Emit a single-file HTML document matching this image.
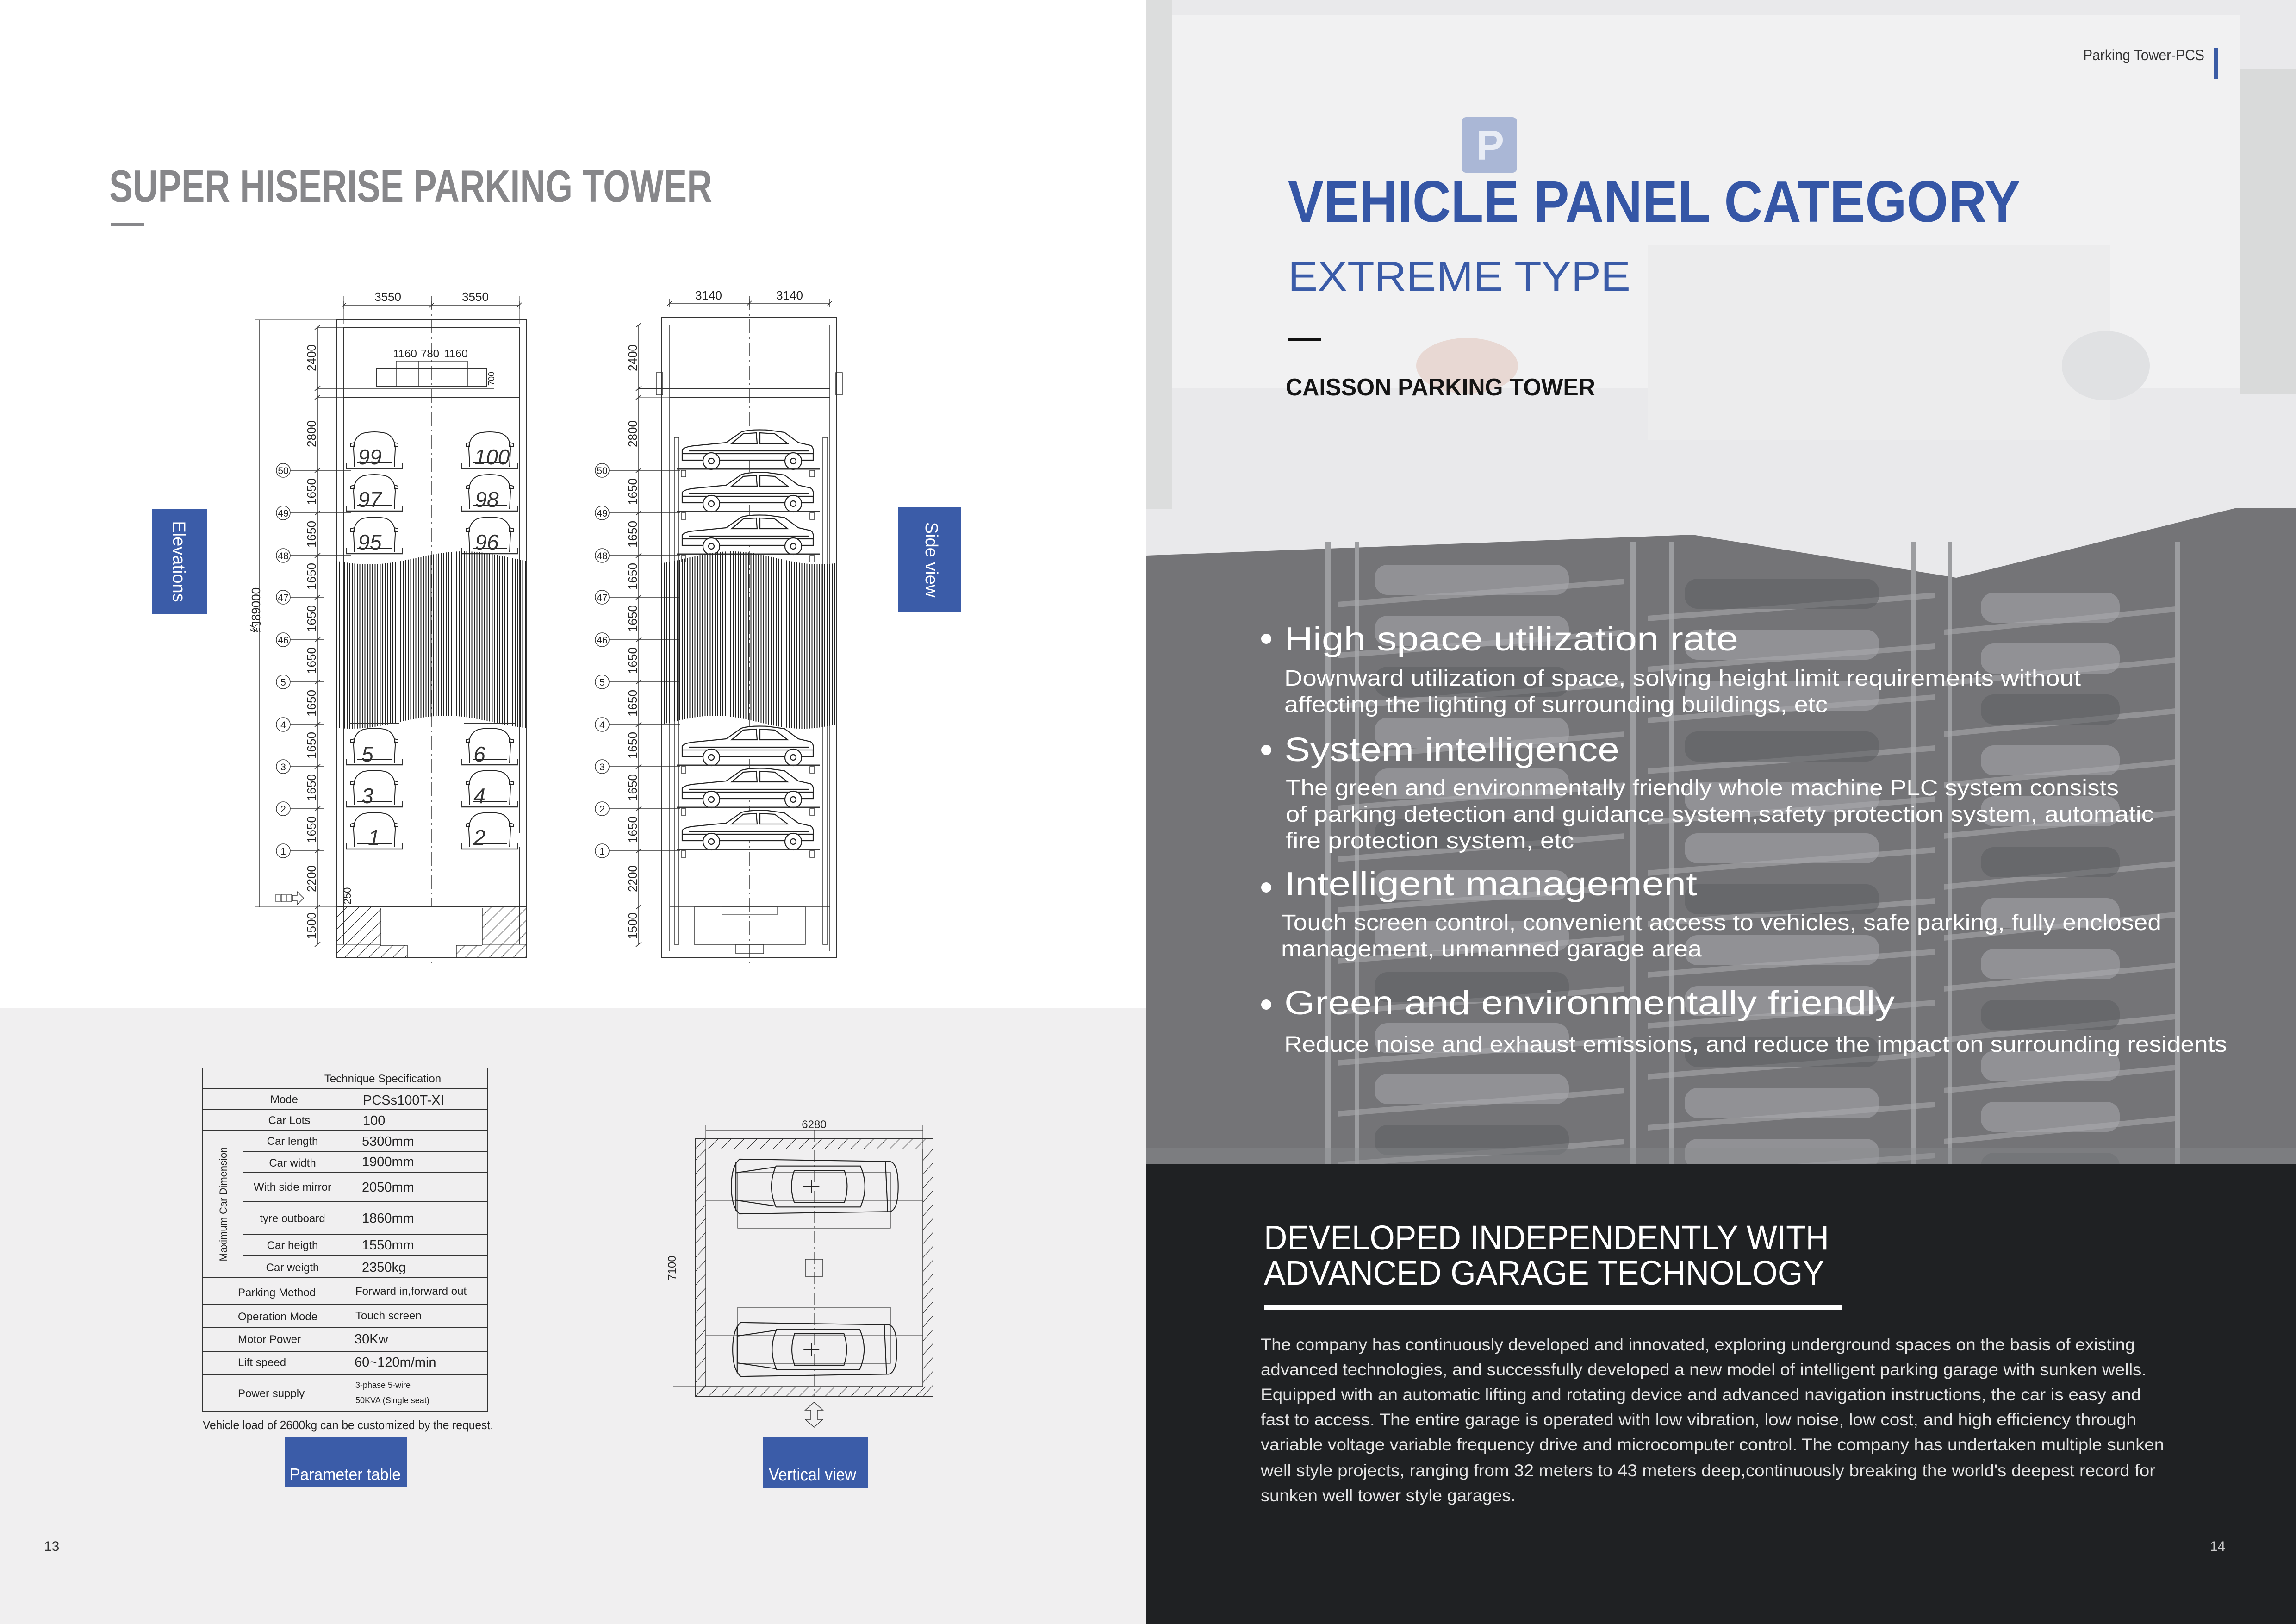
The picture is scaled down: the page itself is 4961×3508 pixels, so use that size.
<!DOCTYPE html>
<html><head><meta charset="utf-8">
<style>
html,body{margin:0;padding:0;background:#fff;}
svg{display:block;}
text{font-family:"Liberation Sans","Noto Sans CJK SC",sans-serif;}
.n{font-family:"Liberation Sans Narrow","Liberation Sans",sans-serif;}
.dim{font-size:26px;fill:#222;}
.cir{font-size:21px;fill:#222;text-anchor:middle;}
.cn{font-family:"Liberation Serif",serif;font-style:italic;font-size:46px;fill:#333;}
.tb{font-family:"Liberation Sans Narrow","Liberation Sans",sans-serif;fill:#222;}
</style></head><body>
<svg id="s" xmlns="http://www.w3.org/2000/svg" width="4961" height="3508" viewBox="0 0 4961 3508">
<defs>
<clipPath id="pitc"><rect x="728" y="1959" width="409" height="110"/></clipPath>
<symbol id="carS" viewBox="0 0 290 92" width="290" height="92">
<g fill="#fff" stroke="#222" stroke-width="2.2">
<path d="M5,66 L5,48 Q10,40 40,38 L100,32 L133,9 Q152,3 190,5 L226,10 L256,32 L282,38 Q290,42 288,56 L288,70 L5,70 Z"/>
<path d="M112,34 L137,13 L165,11 L167,34 Z M173,34 L173,11 L205,13 L233,34 Z" fill="none"/>
<line x1="5" y1="56" x2="288" y2="56"/>
<line x1="20" y1="50" x2="280" y2="50"/>
<circle cx="68" cy="72" r="18"/><circle cx="68" cy="72" r="6"/>
<circle cx="245" cy="72" r="18"/><circle cx="245" cy="72" r="6"/>
</g></symbol>
<symbol id="carF" viewBox="0 0 110 80" width="110" height="80">
<g fill="none" stroke="#222" stroke-width="2">
<path d="M12,78 L10,40 Q10,14 30,6 Q55,0 80,6 Q100,14 100,40 L98,78"/>
<path d="M4,28 L12,26 L12,34 L4,34 Z M98,26 L106,28 L106,34 L98,34 Z"/>
<path d="M18,70 L92,70"/>
</g></symbol>
<symbol id="carT" viewBox="0 0 370 130" width="370" height="130">
<g fill="none" stroke="#222" stroke-width="2.2">
<path d="M20,5 L350,10 Q368,14 368,65 Q368,116 350,120 L20,125 Q2,110 2,65 Q2,20 20,5 Z"/>
<path d="M12,12 L12,118 M340,10 L345,120"/>
<path d="M100,20 Q80,65 100,110 L285,110 Q305,65 285,20 Z"/>
<path d="M140,30 L250,30 Q262,65 250,100 L140,100 Q128,65 140,30 Z"/>
<path d="M12,35 L100,22 M12,95 L100,108"/>
<line x1="160" y1="65" x2="195" y2="65"/><line x1="178" y1="50" x2="178" y2="80"/>
</g></symbol>
</defs>

<rect x="0" y="0" width="2477" height="2177" fill="#ffffff"/>
<rect x="0" y="2177" width="2477" height="1331" fill="#f0eff0"/>

<rect x="2477" y="0" width="2484" height="3508" fill="#e9e9eb"/>
<rect x="2531" y="32" width="2310" height="806" fill="#f1f1f2"/>
<rect x="2477" y="0" width="55" height="1100" fill="#dcdddd"/>
<rect x="4841" y="150" width="120" height="700" fill="#d9dada"/>
<rect x="3560" y="530" width="1000" height="420" fill="#ececed"/>
<ellipse cx="3170" cy="790" rx="110" ry="60" fill="#e8d8d3"/>
<ellipse cx="4550" cy="790" rx="95" ry="75" fill="#e0e1e3"/>
<rect x="3158" y="253" width="120" height="120" rx="10" fill="#aab7d6"/>
<text x="3190" y="345" font-size="90" font-weight="bold" fill="#e8ecf5">P</text>
<polygon points="2477,1200 3657,1155 4227,1248 4829,1098 4961,1098 4961,2515 2477,2515" fill="#747477"/>
<g id="photo"></g>
<rect x="2477" y="2515" width="2484" height="993" fill="#1f2123"/>

<text class="n" x="236" y="436" font-size="98" font-weight="bold" fill="#87878a" textLength="1303" lengthAdjust="spacingAndGlyphs">SUPER HISERISE PARKING TOWER</text>
<rect x="240" y="482" width="72" height="7" fill="#87878a"/>

<rect x="328" y="1099" width="120" height="228" fill="#3b5ca8"/>
<text transform="translate(374,1213) rotate(90)" text-anchor="middle" font-size="38" fill="#fff">Elevations</text>
<rect x="1940" y="1095" width="136" height="228" fill="#3b5ca8"/>
<text transform="translate(2000,1209) rotate(90)" text-anchor="middle" font-size="38" fill="#fff">Side view</text>

<g id="dw" fill="none" stroke="#333" stroke-width="2"></g>

<g class="dim n">
<text x="838" y="650" text-anchor="middle">3550</text>
<text x="1027" y="650" text-anchor="middle">3550</text>
<text x="875" y="772" text-anchor="middle" font-size="24">1160</text>
<text x="929" y="772" text-anchor="middle" font-size="24">780</text>
<text x="985" y="772" text-anchor="middle" font-size="24">1160</text>
<text transform="translate(1068,818) rotate(-90)" text-anchor="middle" font-size="18">700</text>
<text transform="translate(682,773) rotate(-90)" text-anchor="middle">2400</text>
<text transform="translate(682,937) rotate(-90)" text-anchor="middle">2800</text>
<text transform="translate(682,1062) rotate(-90)" text-anchor="middle">1650</text>
<text transform="translate(682,1154) rotate(-90)" text-anchor="middle">1650</text>
<text transform="translate(682,1245) rotate(-90)" text-anchor="middle">1650</text>
<text transform="translate(682,1336) rotate(-90)" text-anchor="middle">1650</text>
<text transform="translate(682,1427) rotate(-90)" text-anchor="middle">1650</text>
<text transform="translate(682,1519) rotate(-90)" text-anchor="middle">1650</text>
<text transform="translate(682,1610) rotate(-90)" text-anchor="middle">1650</text>
<text transform="translate(682,1701) rotate(-90)" text-anchor="middle">1650</text>
<text transform="translate(682,1792) rotate(-90)" text-anchor="middle">1650</text>
<text transform="translate(682,1898) rotate(-90)" text-anchor="middle">2200</text>
<text transform="translate(682,2000) rotate(-90)" text-anchor="middle">1500</text>
<text transform="translate(758,1935) rotate(-90)" text-anchor="middle" font-size="22">250</text>
<text transform="translate(562,1318) rotate(-90)" text-anchor="middle">约89000</text>
<text x="1531" y="647" text-anchor="middle">3140</text>
<text x="1706" y="647" text-anchor="middle">3140</text>
<text transform="translate(1376,773) rotate(-90)" text-anchor="middle">2400</text>
<text transform="translate(1376,937) rotate(-90)" text-anchor="middle">2800</text>
<text transform="translate(1376,1062) rotate(-90)" text-anchor="middle">1650</text>
<text transform="translate(1376,1154) rotate(-90)" text-anchor="middle">1650</text>
<text transform="translate(1376,1245) rotate(-90)" text-anchor="middle">1650</text>
<text transform="translate(1376,1336) rotate(-90)" text-anchor="middle">1650</text>
<text transform="translate(1376,1427) rotate(-90)" text-anchor="middle">1650</text>
<text transform="translate(1376,1519) rotate(-90)" text-anchor="middle">1650</text>
<text transform="translate(1376,1610) rotate(-90)" text-anchor="middle">1650</text>
<text transform="translate(1376,1701) rotate(-90)" text-anchor="middle">1650</text>
<text transform="translate(1376,1792) rotate(-90)" text-anchor="middle">1650</text>
<text transform="translate(1376,1898) rotate(-90)" text-anchor="middle">2200</text>
<text transform="translate(1376,2000) rotate(-90)" text-anchor="middle">1500</text>
</g>
<g class="cir n">
<text x="612" y="1024">50</text><text x="612" y="1116">49</text><text x="612" y="1208">48</text>
<text x="612" y="1298">47</text><text x="612" y="1390">46</text><text x="612" y="1481">5</text>
<text x="612" y="1573">4</text><text x="612" y="1664">3</text><text x="612" y="1755">2</text><text x="612" y="1846">1</text>
<text x="1301" y="1024">50</text><text x="1301" y="1116">49</text><text x="1301" y="1208">48</text>
<text x="1301" y="1298">47</text><text x="1301" y="1390">46</text><text x="1301" y="1481">5</text>
<text x="1301" y="1573">4</text><text x="1301" y="1664">3</text><text x="1301" y="1755">2</text><text x="1301" y="1846">1</text>
</g>
<g class="cn">
<text x="799" y="1003" text-anchor="middle">99</text><text x="1063" y="1003" text-anchor="middle">100</text>
<text x="799" y="1095" text-anchor="middle">97</text><text x="1052" y="1095" text-anchor="middle">98</text>
<text x="799" y="1187" text-anchor="middle">95</text><text x="1052" y="1187" text-anchor="middle">96</text>
<text x="794" y="1645" text-anchor="middle">5</text><text x="1036" y="1645" text-anchor="middle">6</text>
<text x="794" y="1735" text-anchor="middle">3</text><text x="1036" y="1735" text-anchor="middle">4</text>
<text x="808" y="1825" text-anchor="middle">1</text><text x="1036" y="1825" text-anchor="middle">2</text>
</g>

<text class="n" x="1759" y="2437" text-anchor="middle" font-size="24" fill="#222">6280</text>
<text class="n" transform="translate(1460,2739) rotate(-90)" text-anchor="middle" font-size="24" fill="#222">7100</text>

<g id="tbl" stroke="#333" stroke-width="2" fill="none"></g>
<g class="tb" font-size="24">
<text x="827" y="2338" text-anchor="middle">Technique Specification</text>
<text x="614" y="2383" text-anchor="middle">Mode</text>
<text x="784" y="2386" font-size="29">PCSs100T-XI</text>
<text x="625" y="2428" text-anchor="middle">Car Lots</text>
<text x="784" y="2430" font-size="29">100</text>
<text x="632" y="2473" text-anchor="middle">Car length</text>
<text x="632" y="2520" text-anchor="middle">Car width</text>
<text x="632" y="2572" text-anchor="middle">With side mirror</text>
<text x="632" y="2640" text-anchor="middle">tyre outboard</text>
<text x="632" y="2698" text-anchor="middle">Car heigth</text>
<text x="632" y="2746" text-anchor="middle">Car weigth</text>
<text x="782" y="2475" font-size="29">5300mm</text>
<text x="782" y="2519" font-size="29">1900mm</text>
<text x="782" y="2574" font-size="29">2050mm</text>
<text x="782" y="2641" font-size="29">1860mm</text>
<text x="782" y="2699" font-size="29">1550mm</text>
<text x="782" y="2747" font-size="29">2350kg</text>
<text transform="translate(490,2601) rotate(-90)" text-anchor="middle" font-size="22" style="font-family:'Liberation Sans',sans-serif">Maximum Car Dimension</text>
<text x="514" y="2800">Parking Method</text><text x="768" y="2797">Forward in,forward out</text>
<text x="514" y="2852">Operation Mode</text><text x="768" y="2850">Touch screen</text>
<text x="514" y="2901">Motor Power</text><text x="766" y="2902" font-size="29">30Kw</text>
<text x="514" y="2951">Lift speed</text><text x="766" y="2952" font-size="29">60~120m/min</text>
<text x="514" y="3018">Power supply</text>
<text x="768" y="2998" font-size="18">3-phase 5-wire</text>
<text x="768" y="3031" font-size="18">50KVA  (Single seat)</text>
<text x="438" y="3087" font-size="26" textLength="628" lengthAdjust="spacingAndGlyphs">Vehicle load of 2600kg can be customized by the request.</text>
</g>
<rect x="615" y="3105" width="264" height="108" fill="#3b5ca8"/>
<text x="626" y="3197" font-size="36" fill="#fff" textLength="240" lengthAdjust="spacingAndGlyphs">Parameter table</text>
<rect x="1648" y="3104" width="228" height="111" fill="#3b5ca8"/>
<text x="1661" y="3198" font-size="38" fill="#fff" textLength="189" lengthAdjust="spacingAndGlyphs">Vertical view</text>
<text x="95" y="3350" font-size="30" fill="#333">13</text>

<text class="n" x="4501" y="130" font-size="32" fill="#333" textLength="262" lengthAdjust="spacingAndGlyphs">Parking Tower-PCS</text>
<rect x="4783" y="104" width="9" height="66" fill="#3a5ba5"/>
<text class="n" x="2783" y="479" font-size="126" font-weight="bold" fill="#3556a6" textLength="1582" lengthAdjust="spacingAndGlyphs">VEHICLE PANEL CATEGORY</text>
<text class="n" x="2783" y="628" font-size="90" fill="#3a5ba8" textLength="740" lengthAdjust="spacingAndGlyphs">EXTREME TYPE</text>
<rect x="2783" y="731" width="72" height="6" fill="#111"/>
<text class="n" x="2778" y="854" font-size="52" font-weight="bold" fill="#151515" textLength="669" lengthAdjust="spacingAndGlyphs">CAISSON PARKING TOWER</text>

<g fill="#fff">
<circle cx="2736" cy="1380" r="11"/><circle cx="2736" cy="1620" r="11"/><circle cx="2736" cy="1917" r="11"/><circle cx="2736" cy="2170" r="11"/>
<g font-size="72">
<text x="2775" y="1405" textLength="981" lengthAdjust="spacingAndGlyphs">High space utilization rate</text>
<text x="2775" y="1644" textLength="724" lengthAdjust="spacingAndGlyphs">System intelligence</text>
<text x="2775" y="1934" textLength="892" lengthAdjust="spacingAndGlyphs">Intelligent management</text>
<text x="2775" y="2191" textLength="1319" lengthAdjust="spacingAndGlyphs">Green and environmentally friendly</text>
</g>
<g font-size="48">
<text x="2775" y="1481" textLength="1721" lengthAdjust="spacingAndGlyphs">Downward utilization of space, solving height limit requirements without</text>
<text x="2775" y="1538" textLength="1174" lengthAdjust="spacingAndGlyphs">affecting the lighting of surrounding buildings, etc</text>
<text x="2778" y="1718" textLength="1800" lengthAdjust="spacingAndGlyphs">The green and environmentally friendly whole machine PLC system consists</text>
<text x="2778" y="1775" textLength="1876" lengthAdjust="spacingAndGlyphs">of parking detection and guidance system,safety protection system, automatic</text>
<text x="2778" y="1832" textLength="623" lengthAdjust="spacingAndGlyphs">fire protection system, etc</text>
<text x="2768" y="2009" textLength="1902" lengthAdjust="spacingAndGlyphs">Touch screen control, convenient access to vehicles, safe parking, fully enclosed</text>
<text x="2768" y="2066" textLength="909" lengthAdjust="spacingAndGlyphs">management, unmanned garage area</text>
<text x="2775" y="2272" textLength="2037" lengthAdjust="spacingAndGlyphs">Reduce noise and exhaust emissions, and reduce the impact on surrounding residents</text>
</g>
<g font-size="74">
<text x="2731" y="2699" textLength="1221" lengthAdjust="spacingAndGlyphs">DEVELOPED INDEPENDENTLY WITH</text>
<text x="2731" y="2775" textLength="1211" lengthAdjust="spacingAndGlyphs">ADVANCED GARAGE TECHNOLOGY</text>
</g>
<rect x="2731" y="2819" width="1249" height="10"/>
<g font-size="37" fill="#e4e4e4">
<text x="2724" y="2917" textLength="1889" lengthAdjust="spacingAndGlyphs">The company has continuously developed and innovated, exploring underground spaces on the basis of existing</text>
<text x="2724" y="2971" textLength="1914" lengthAdjust="spacingAndGlyphs">advanced technologies, and successfully developed a new model of intelligent parking garage with sunken  wells.</text>
<text x="2724" y="3025" textLength="1902" lengthAdjust="spacingAndGlyphs">Equipped with an automatic lifting and rotating device and advanced navigation instructions, the car is easy and</text>
<text x="2724" y="3079" textLength="1892" lengthAdjust="spacingAndGlyphs">fast to access.  The entire garage is operated with low vibration, low noise, low cost, and high efficiency through</text>
<text x="2724" y="3133" textLength="1952" lengthAdjust="spacingAndGlyphs">variable voltage variable frequency drive and microcomputer control. The company has undertaken multiple sunken</text>
<text x="2724" y="3189" textLength="1933" lengthAdjust="spacingAndGlyphs">well style projects, ranging from 32 meters to 43 meters deep,continuously breaking the world's deepest record for</text>
<text x="2724" y="3243" textLength="551" lengthAdjust="spacingAndGlyphs">sunken well tower style garages.</text>
</g>
<text x="4775" y="3350" font-size="30" fill="#ccc">14</text>
</g>
</svg>
<script>
(function(){
var NS="http://www.w3.org/2000/svg";
function el(p,n,a){var e=document.createElementNS(NS,n);for(var k in a)e.setAttribute(k,a[k]);p.appendChild(e);return e;}
var d=document.getElementById('dw');
function L(x1,y1,x2,y2,w,extra){var a={x1:x1,y1:y1,x2:x2,y2:y2};if(w)a['stroke-width']=w;if(extra)for(var k in extra)a[k]=extra[k];return el(d,'line',a);}
function R(x,y,w,h,sw){return el(d,'rect',{x:x,y:y,width:w,height:h,'stroke-width':sw||2});}
var lv=[1016,1108,1200,1290,1382,1473,1565,1656,1747,1838];
R(728,691,409,1378);
L(743,707,743,2040);L(1122,707,1122,1800);L(1122,1830,1122,2040);
L(743,707,1122,707);L(686,707,1035,707,1.5);
L(686,839,1068,839,1.5);L(743,858,1122,858);L(686,858,780,858,1.5);
R(813,796,239,38);L(856,780,856,834,1.5);L(904,780,904,834,1.5);L(955,780,955,834,1.5);L(1010,780,1010,834,1.5);L(856,780,1010,780,1.2);
L(933,640,933,2080,1.5,{'stroke-dasharray':'30 8 4 8'});
L(743,659,1122,659,1.5);[743,933,1122].forEach(function(x){L(x,650,x,668,1.5);L(x-5,664,x+5,654,1.5);});
L(743,640,743,700,1);L(1122,640,1122,700,1);
L(686,707,686,2040,1.5);L(561,691,561,1959,1.5);L(552,691,728,691,1);L(552,1959,743,1959,1);
[707,839,858,1959,2040].concat(lv).forEach(function(y){L(680,y+5,692,y-5,1.5);});
lv.forEach(function(y,i){el(d,'circle',{cx:612,cy:y,r:15,'stroke-width':1.5});L(627,y,i<3?758:700,y,1.5);});
L(743,1959,1122,1959,1.5);L(728,2040,1137,2040,1);
(function(){var g=el(d,'g',{'stroke-width':1.2,'clip-path':'url(#pitc)'});
for(var x=640;x<1160;x+=26){el(g,'line',{x1:x,y1:2069,x2:x+110,y2:1959});}
el(g,'rect',{x:823,y:1960,width:219,height:82,fill:'#fff',stroke:'none'});
el(g,'rect',{x:880,y:2042,width:106,height:27,fill:'#fff',stroke:'none'});
el(d,'rect',{x:728,y:1959,width:409,height:110,fill:'none','stroke-width':2});
L(823,1962,823,2042,1.5);L(1042,1962,1042,2042,1.5);L(823,2042,880,2042,1.5);L(986,2042,1042,2042,1.5);
L(880,2042,880,2069,1.5);L(986,2042,986,2069,1.5);
})();
for(var i=0;i<3;i++)R(596+i*12,1932,10,16,1.2);
el(d,'path',{d:'M632,1934 L642,1934 L642,1926 L656,1940 L642,1954 L642,1946 L632,1946 Z','stroke-width':1.5});
var carLv=[1016,1108,1200,1656,1747,1838];
carLv.forEach(function(y){
 [754,1003].forEach(function(x){
  el(d,'use',{href:'#carF',x:x,y:y-86,width:110,height:80});
  L(x-6,y-4,x+116,y-4,2.5);L(x-6,y-4,x-6,y-16,2);L(x+116,y-4,x+116,y-16,2);
 });
});
function hatch(x0,x1,yt,yb,step,ph){
 var g=el(d,'g',{'stroke-width':2,stroke:'#222'});
 for(var x=x0;x<=x1;x+=step){
  var t=(x-x0)/(x1-x0);
  var a=yt+14*Math.sin(t*Math.PI*2+ph);var b=yb+14*Math.sin(t*Math.PI*2+ph+0.6);
  el(g,'line',{x1:x,y1:a,x2:x,y2:b});
 }
}
hatch(728,1137,1205,1560,5.5,0.5);
L(754,1562,862,1562,2);L(1003,1562,1112,1562,2);
R(1430,686,378,1383);
L(1447,701,1447,2055,1.5);L(1793,701,1793,2055,1.5);
L(1447,702,1793,702);L(1380,702,1447,702,1);L(1380,839,1793,839);L(1447,858,1793,858);L(1380,858,1447,858,1);
R(1418,805,14,48,1.5);R(1806,805,14,48,1.5);
L(1619,640,1619,2080,1.5,{'stroke-dasharray':'30 8 4 8'});
L(1447,655,1793,655,1.5);[1447,1619,1793].forEach(function(x){L(x,646,x,664,1.5);L(x-5,660,x+5,650,1.5);});
L(1380,702,1380,2040,1.5);
[702,839,858,1959,2040].concat(lv).forEach(function(y){L(1374,y+5,1386,y-5,1.5);});
lv.forEach(function(y){el(d,'circle',{cx:1301,cy:y,r:15,'stroke-width':1.5});L(1316,y,1470,y,1.5);});
R(1457,945,10,1095,1.5);R(1778,945,10,1095,1.5);
L(1447,1959,1793,1959,1.5);R(1500,1959,240,81,1.5);R(1590,2040,60,20,1.5);R(1560,1959,120,16,1.2);
carLv.forEach(function(y){
 el(d,'use',{href:'#carS',x:1469,y:y-92,width:290,height:92});
 L(1462,y-3,1772,y-3,3);R(1472,y,10,14,1.5);R(1750,y,10,14,1.5);
});
hatch(1430,1808,1205,1560,5.5,2.2);
L(1462,1566,1772,1566,2);
(function(){
 var g=el(d,'g',{'stroke-width':1.2});
 for(var x=1502;x<2000;x+=28){el(g,'line',{x1:x,y1:2482,x2:x+23,y2:2459});el(g,'line',{x1:x,y1:3017,x2:x+22,y2:2995});}
 for(var y=2482;y<2995;y+=30){el(g,'line',{x1:1502,y1:y+25,x2:1525,y2:y});el(g,'line',{x1:1994,y1:y+25,x2:2016,y2:y});}
 R(1502,2459,514,558,2);R(1525,2482,469,513,1.5);
 L(1525,2442,1994,2442,1.2);L(1525,2430,1525,2482,1);L(1994,2430,1994,2482,1);
 L(1465,2482,1465,2995,1.2);L(1455,2482,1525,2482,1);L(1455,2995,1525,2995,1);
 L(1759,2440,1759,3017,1.2,{'stroke-dasharray':'26 7 4 7'});
 L(1502,2739,2016,2739,1.2,{'stroke-dasharray':'26 7 4 7'});
 R(1740,2720,38,37,1.5);
 R(1594,2532,330,121,1.2);R(1594,2824,330,121,1.2);
 L(1525,2593,1994,2593,1);L(1525,2884,1994,2884,1);
 el(d,'use',{href:'#carT',x:1578,y:2499,width:365,height:128});
 el(d,'use',{href:'#carT',x:1578,y:2852,width:365,height:126});
 el(d,'path',{d:'M1759,3029 L1778,3046 L1766,3046 L1766,3066 L1778,3066 L1759,3083 L1740,3066 L1752,3066 L1752,3046 L1740,3046 Z','stroke-width':1.5});
})();
var t=document.getElementById('tbl');
var ys=[2307,2352,2397,2442,2487,2533,2596,2667,2712,2760,2818,2868,2919,2969,3049];
el(t,'rect',{x:438,y:2307,width:616,height:742});
ys.forEach(function(y,i){if(i==0||i==14)return;var x0=(i>=4&&i<=8)?525:438;el(t,'line',{x1:x0,y1:y,x2:1054,y2:y});});
el(t,'line',{x1:739,y1:2352,x2:739,y2:3049});
el(t,'line',{x1:525,y1:2442,x2:525,y2:2760});
var p=document.getElementById('photo');
[[2863,12],[2927,10],[3522,12],[3607,10],[4129,12],[4208,10],[4699,12]].forEach(function(a){
 el(p,'rect',{x:a[0],y:1170,width:a[1],height:1345,fill:'#9c9da0'});});
var cols=[[2890,3510],[3560,4180],[4200,4700]];
cols.forEach(function(c,ci){
 for(var y=1200+ci*30;y<2515;y+=110){
  el(p,'polygon',{points:(c[0])+','+(y+100)+' '+(c[1])+','+(y+50)+' '+(c[1])+','+(y+62)+' '+(c[0])+','+(y+112),fill:'#a8a9ac','fill-opacity':0.6});
  var dark=((y/110|0)+ci)%3==0;
  el(p,'rect',{x:c[0]+80,y:y+20,width:c[1]-c[0]-200,height:65,rx:28,fill:dark?'#5d5e62':'#a9aaae','fill-opacity':0.55});
 }
});
el(p,'rect',{x:2477,y:2480,width:2484,height:35,fill:'#8a8b8e','fill-opacity':0.4});
})();
</script>
</body></html>
